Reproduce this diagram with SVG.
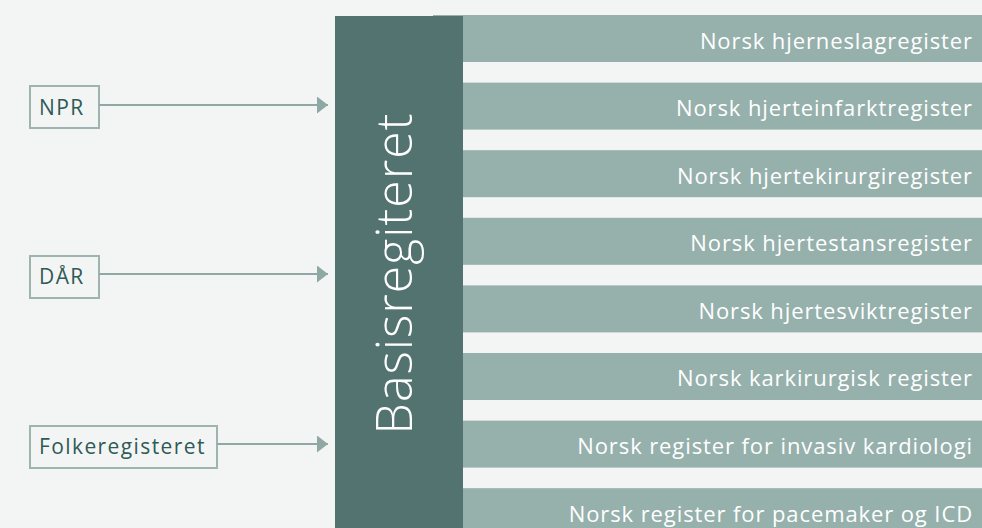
<svg xmlns="http://www.w3.org/2000/svg" width="982" height="528" viewBox="0 0 982 528">
<defs>
<marker id="ah" markerWidth="12" markerHeight="18" refX="11" refY="8.5" orient="auto" markerUnits="userSpaceOnUse">
<path d="M0,0 L11,8.5 L0,17 Z" fill="#8fa8a4"/>
</marker>
<style>
.src rect{fill:#f3f5f5;stroke:#9db4b0;stroke-width:2}
.src text{font-family:"Open Sans","Noto Sans",sans-serif;font-size:21px;letter-spacing:1.4px;fill:#2f5a55}
.bar rect{fill:#96b0ac}
.bar text{font-family:"Open Sans","Noto Sans",sans-serif;font-size:22px;letter-spacing:0.9px;fill:#ffffff;text-anchor:end}
.conn line{stroke:#8fa8a4;stroke-width:2;marker-end:url(#ah)}
</style>
</defs>
<rect x="0" y="0" width="982" height="528" fill="#f3f5f5"/>
<g id="bars">
<g id="bar1" class="bar"><rect x="433" y="15" width="549" height="47"/><text x="973" y="48.5">Norsk hjerneslagregister</text></g>
<g id="bar2" class="bar"><rect x="433" y="82.6" width="549" height="47"/><text x="973" y="116">Norsk hjerteinfarktregister</text></g>
<g id="bar3" class="bar"><rect x="433" y="150.2" width="549" height="47"/><text x="973" y="183.6">Norsk hjertekirurgiregister</text></g>
<g id="bar4" class="bar"><rect x="433" y="217.8" width="549" height="47"/><text x="973" y="251.2">Norsk hjertestansregister</text></g>
<g id="bar5" class="bar"><rect x="433" y="285.4" width="549" height="47"/><text x="973" y="318.8">Norsk hjertesviktregister</text></g>
<g id="bar6" class="bar"><rect x="433" y="353" width="549" height="47"/><text x="973" y="386.4">Norsk karkirurgisk register</text></g>
<g id="bar7" class="bar"><rect x="433" y="420.6" width="549" height="47"/><text x="973" y="454">Norsk register for invasiv kardiologi</text></g>
<g id="bar8" class="bar"><rect x="433" y="488.2" width="549" height="47"/><text x="973" y="521.6">Norsk register for pacemaker og ICD</text></g>
</g>
<g id="basis">
<rect x="335" y="16" width="128" height="520" fill="#527370"/>
<text transform="translate(412,273.5) rotate(-90)" text-anchor="middle" font-family="Open Sans, Noto Sans, sans-serif" font-weight="300" font-size="50" letter-spacing="1" fill="#ffffff">Basisregiteret</text>
</g>
<g id="npr" class="src"><rect x="30" y="86" width="69" height="42"/><text x="39" y="115">NPR</text></g>
<g id="dar" class="src"><rect x="30" y="256" width="69" height="42"/><text x="39" y="284">DÅR</text></g>
<g id="folk" class="src"><rect x="30" y="426" width="187" height="42"/><text x="39" y="454">Folkeregisteret</text></g>
<g id="connectors" class="conn">
<line x1="99" y1="105" x2="328" y2="105"/>
<line x1="99" y1="274" x2="328" y2="274"/>
<line x1="217" y1="444" x2="328" y2="444"/>
</g>
</svg>
